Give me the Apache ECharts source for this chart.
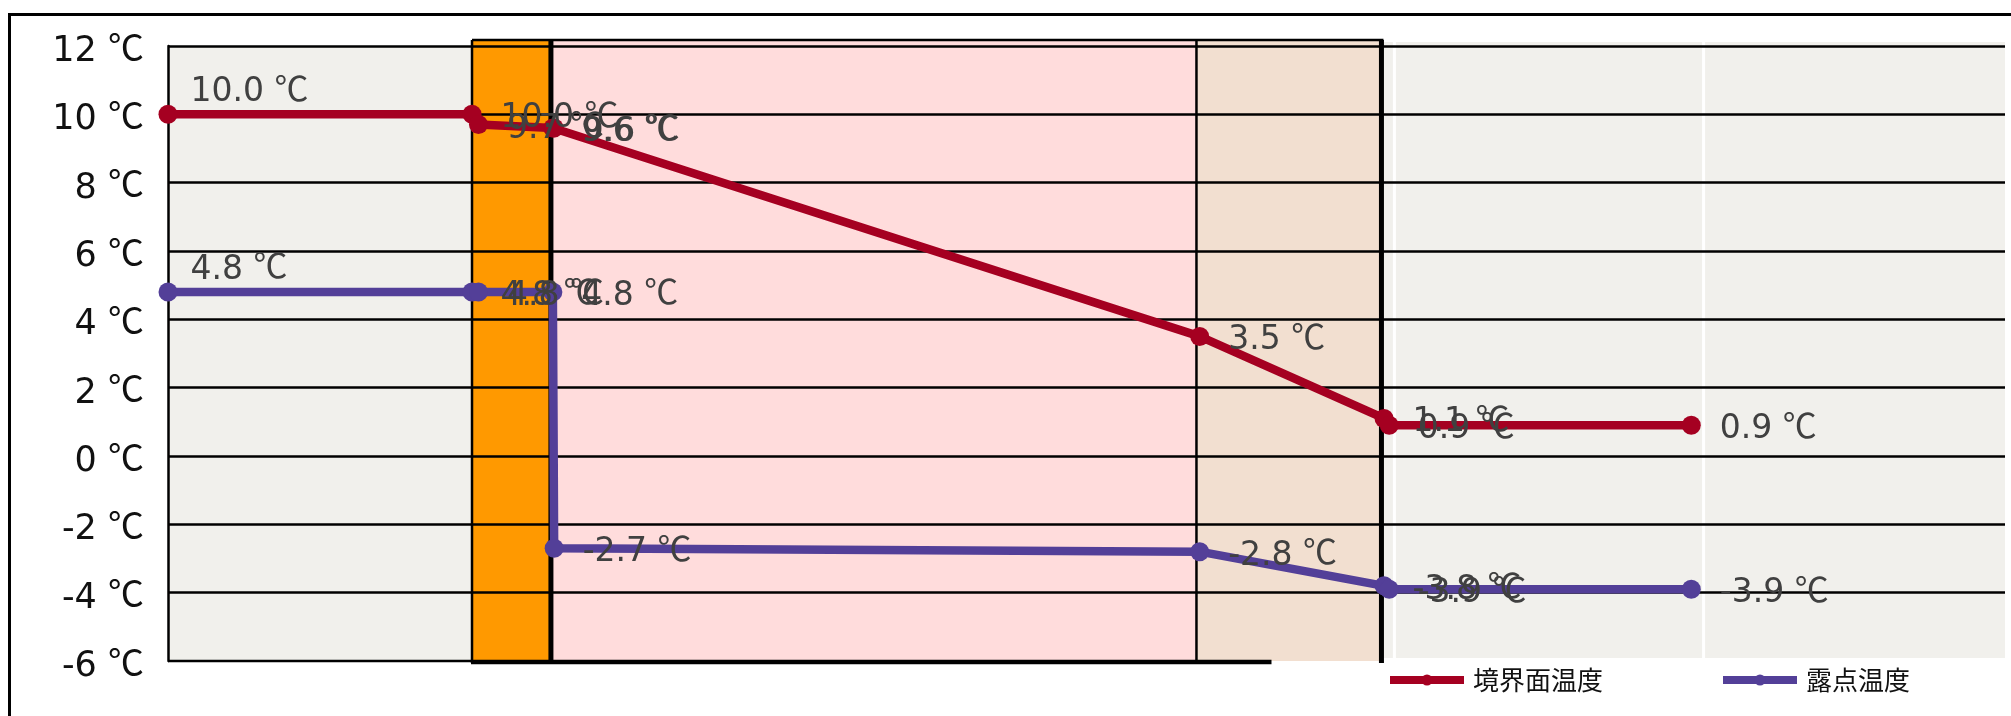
<!DOCTYPE html>
<html>
<head>
<meta charset="utf-8">
<script src="https://cdn.jsdelivr.net/npm/echarts@6/dist/echarts.min.js"></script>
<style>
  html, body { margin: 0; padding: 0; background: #fff; }
  #main { width: 2011px; height: 716px; }
</style>
</head>
<body>
<div id="main"></div>
<script>
// 位置（壁の外側からの距離）
const xPos = [0, 47, 48, 59.5, 59.7, 159.5, 188, 188.8, 235.5];
// 境界面温度
const surfaceTemp = [10.0, 10.0, 9.7, 9.6, 9.6, 3.5, 1.1, 0.9, 0.9];
// 露点温度
const dewPoint = [4.8, 4.8, 4.8, 4.8, -2.7, -2.8, -3.8, -3.9, -3.9];
// 層の境界（外気 / 合板 / 断熱材 / 内装 / 室内）
const layerEdges = [0, 47, 59.2, 159, 187.6, 284];
const wallEdges = [47, 59.2, 159, 187.6];
const boxBottomEnd = 170.6;
const whiteLineXs = [189.6, 237.4];
const seriesNames = ['境界面温度', '露点温度'];

const Y_MIN = -6, Y_MAX = 12;
const FONT_NUM = '"DejaVu Sans", sans-serif';
const FONT_JP = '"Noto Sans CJK JP", sans-serif';

// 見た目
const layerStyle = [
  { fill: '#F1F0EC', top: 0, bottom: 0 },
  { fill: '#FF9900', top: 5, bottom: 0 },
  { fill: '#FFDCDC', top: 5, bottom: 0 },
  { fill: '#F2DFD0', top: 5, bottom: 0 },
  { fill: '#F1F0EC', top: 4, bottom: 3 }
];
const wallLineWidth = [2.5, 5, 2.5, 5];

function pairs(xs, ys) {
  return xs.map(function (x, i) { return [x, ys[i]]; });
}

function renderLayer(params, api) {
  const st = layerStyle[params.dataIndex];
  const a = api.coord([api.value(0), Y_MAX]);
  const b = api.coord([api.value(1), Y_MIN]);
  return {
    type: 'rect',
    shape: { x: a[0], y: a[1] - st.top, width: b[0] - a[0], height: b[1] - a[1] + st.top - st.bottom },
    style: { fill: st.fill }
  };
}

function renderWhiteLine(params, api) {
  const a = api.coord([api.value(0), Y_MAX]);
  const b = api.coord([api.value(0), Y_MIN]);
  return {
    type: 'line',
    shape: { x1: a[0], y1: a[1] - 4, x2: b[0], y2: b[1] - 3 },
    style: { stroke: '#FFFFFF', lineWidth: 3 }
  };
}

function renderBox(params, api) {
  const top = api.coord([wallEdges[0], Y_MAX])[1] - 6;
  const bottom = api.coord([wallEdges[0], Y_MIN])[1] + 1;
  const children = [];
  const left = api.coord([wallEdges[0], Y_MAX])[0];
  const right = api.coord([wallEdges[wallEdges.length - 1], Y_MAX])[0];
  children.push({ type: 'line', shape: { x1: left, y1: top, x2: right + 2, y2: top }, style: { stroke: '#000', lineWidth: 2.5 } });
  wallEdges.forEach(function (x, i) {
    const px = api.coord([x, Y_MAX])[0];
    children.push({ type: 'line', shape: { x1: px, y1: top, x2: px, y2: bottom + 1 }, style: { stroke: '#000', lineWidth: wallLineWidth[i] } });
  });
  const endPx = api.coord([boxBottomEnd, Y_MIN])[0];
  children.push({ type: 'line', shape: { x1: left - 1, y1: bottom, x2: endPx, y2: bottom }, style: { stroke: '#000', lineWidth: 4.5 } });
  // 外気側の下端
  const x0 = api.coord([layerEdges[0], Y_MIN])[0];
  children.push({ type: 'line', shape: { x1: x0, y1: bottom - 1, x2: left, y2: bottom - 1 }, style: { stroke: '#000', lineWidth: 2.5 } });
  return { type: 'group', children: children };
}

function labelData(xs, ys, firstOffset) {
  return pairs(xs, ys).map(function (p, i) {
    if (i === 0) {
      return { value: p, label: { offset: firstOffset } };
    }
    return { value: p };
  });
}

function degRich(color, size) {
  return {
    n: { fontFamily: FONT_NUM, fontSize: size, color: color, padding: [5, 0, 0, 0] },
    u: { fontFamily: FONT_JP, fontSize: size + 1, color: color, padding: [0, 0, 5, 0] }
  };
}

const chart = echarts.init(document.getElementById('main'));

const lineLabel = {
  show: true,
  position: 'right',
  distance: 19,
  offset: [0, 2],
  formatter: function (p) { return '{n|' + p.value[1].toFixed(1) + ' }{u|℃}'; },
  rich: degRich('#404040', 33)
};

const option = {
  animation: false,
  backgroundColor: '#fff',
  graphic: [{
    type: 'rect',
    left: 7, top: 12,
    shape: { width: 2100, height: 800 },
    style: { fill: 'none', stroke: '#000', lineWidth: 3 }
  }],
  grid: { left: 168, right: 6, top: 46, bottom: 55 },
  legend: {
    left: 1386, top: 667, padding: 0,
    itemWidth: 74, itemHeight: 14, itemGap: 116,
    lineStyle: { width: 8 },
    textStyle: { fontSize: 26, color: '#111', fontFamily: FONT_JP, padding: [0, 0, 0, 4] },
    data: seriesNames
  },
  xAxis: { type: 'value', min: 0, max: 284, show: false },
  yAxis: {
    type: 'value', min: Y_MIN, max: Y_MAX, interval: 2,
    axisLine: { show: true, lineStyle: { color: '#000', width: 2.5 } },
    axisTick: { show: false },
    axisLabel: {
      margin: 24,
      padding: [7, 0, 0, 0],
      formatter: function (v) { return '{n|' + v + ' }{u|℃}'; },
      rich: degRich('#111', 35)
    },
    splitLine: { show: true, showMinLine: false, lineStyle: { color: '#000', width: 2.5 } }
  },
  series: [
    {
      type: 'custom', z: -1, silent: true,
      renderItem: renderLayer,
      encode: { x: [0, 1] },
      data: layerEdges.slice(0, -1).map(function (x, i) { return [x, layerEdges[i + 1]]; })
    },
    {
      type: 'custom', z: -1, silent: true,
      renderItem: renderWhiteLine,
      encode: { x: 0 },
      data: whiteLineXs.map(function (x) { return [x]; })
    },
    {
      type: 'custom', z: 1, silent: true,
      renderItem: renderBox,
      encode: { x: [0, 1] },
      data: [[wallEdges[0], wallEdges[wallEdges.length - 1]]]
    },
    {
      name: seriesNames[0], type: 'line', z: 3,
      symbol: 'circle', symbolSize: 19,
      itemStyle: { color: '#A50021' },
      lineStyle: { width: 8.5, color: '#A50021' },
      label: lineLabel,
      data: labelData(xPos, surfaceTemp, [-6, -24])
    },
    {
      name: seriesNames[1], type: 'line', z: 3,
      symbol: 'circle', symbolSize: 19,
      itemStyle: { color: '#533F98' },
      lineStyle: { width: 8.5, color: '#533F98' },
      label: lineLabel,
      data: labelData(xPos, dewPoint, [-6, -24])
    }
  ]
};

chart.setOption(option);
</script>
</body>
</html>
